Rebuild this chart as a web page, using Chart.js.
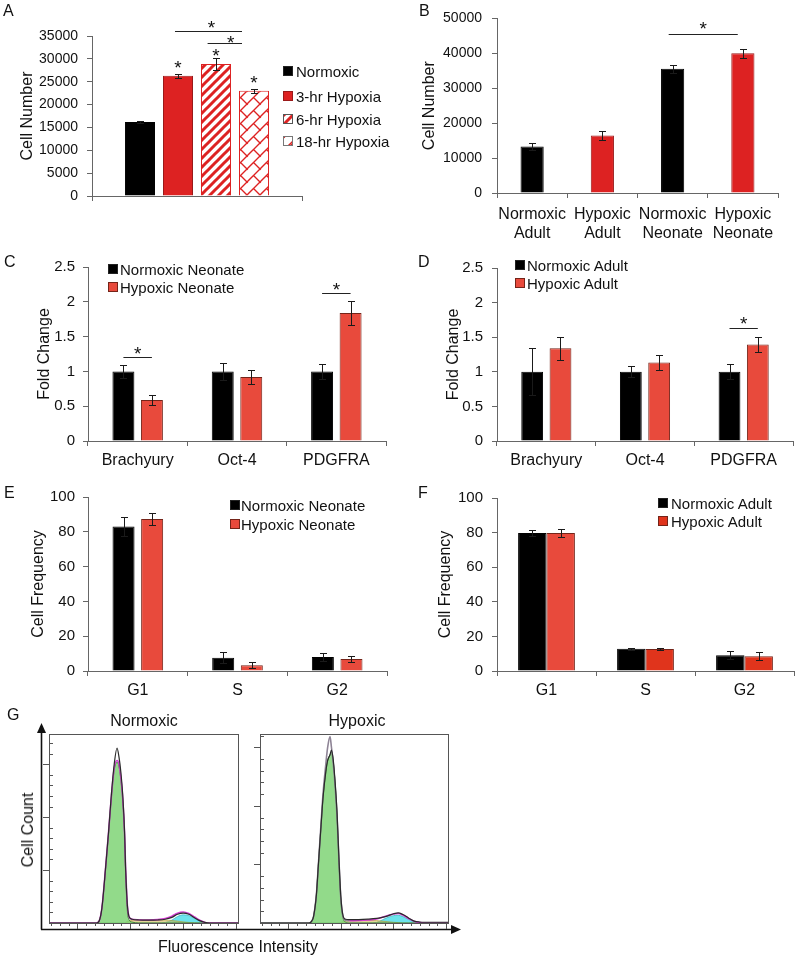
<!DOCTYPE html>
<html>
<head>
<meta charset="utf-8">
<script src="https://cdn.jsdelivr.net/npm/chart.js@4.4.1/dist/chart.umd.min.js"></script>
<style>
  html, body { margin: 0; padding: 0; background: #fff; }
  #fig { position: relative; width: 800px; height: 960px; overflow: hidden;
         font-family: "Liberation Sans", Arial, sans-serif; color: #111; }
  canvas, svg { position: absolute; }
  .t { position: absolute; white-space: nowrap; line-height: 1; transform: translateY(-50%); }
  .c { transform: translate(-50%, -50%); }
  .rot { transform: translate(-50%, -50%) rotate(-90deg); }
  .sw { position: absolute; box-sizing: border-box; width: 10px; height: 10px;
        border: 1px solid #333; transform: translateY(-50%); }
</style>
</head>
<body>
<div id="fig">
  <canvas id="chartA" width="310" height="230" style="left:0;top:0"></canvas>
  <canvas id="chartB" width="400" height="245" style="left:400px;top:0"></canvas>
  <canvas id="chartC" width="400" height="220" style="left:0;top:250px"></canvas>
  <canvas id="chartD" width="400" height="220" style="left:400px;top:250px"></canvas>
  <canvas id="chartE" width="400" height="225" style="left:0;top:480px"></canvas>
  <canvas id="chartF" width="400" height="225" style="left:400px;top:480px"></canvas>
  <svg width="470" height="260" style="left:0;top:700px">
    <line x1="41" y1="229.5" x2="453" y2="229.5" stroke="#111" stroke-width="1.6"/>
    <polygon points="461,229.5 451,225 451,234" fill="#111"/>
    <line x1="41.5" y1="229.5" x2="41.5" y2="31" stroke="#111" stroke-width="1.6"/>
    <polygon points="41.5,23 37,33 46,33" fill="#111"/>
  </svg>
  <canvas id="chartG1" width="250" height="260" style="left:0;top:700px"></canvas>
  <canvas id="chartG2" width="220" height="260" style="left:250px;top:700px"></canvas>
</div>
<script>
// ---------- data ----------
var aLabels = ['Normoxic', '3-hr Hypoxia', '6-hr Hypoxia', '18-hr Hypoxia'];
var aValues = [16200, 26300, 28900, 23000];
var aErrors = [250, 400, 1250, 400];
var aStarY = [null, 29200, 31700, 25800];
var aBrackets = [[1, 3, 36100], [2, 3, 33500]];

var bLabels = [['Normoxic', 'Adult'], ['Hypoxic', 'Adult'], ['Normoxic', 'Neonate'], ['Hypoxic', 'Neonate']];
var bValues = [13300, 16500, 35600, 40000];
var bErrors = [1100, 1300, 1100, 1200];
var bBrackets = [[2, 3, 45400]];

var geneLabels = ['Brachyury', 'Oct-4', 'PDGFRA'];
var cNormoxic = [1, 1, 1];
var cNormoxicErr = [0.09, 0.12, 0.11];
var cHypoxic = [0.59, 0.92, 1.84];
var cHypoxicErr = [0.07, 0.095, 0.17];
var cBrackets = [[0, 1.21], [2, 2.12]];

var dNormoxic = [1, 1, 1];
var dNormoxicErr = [0.34, 0.08, 0.11];
var dHypoxic = [1.34, 1.135, 1.395];
var dHypoxicErr = [0.17, 0.11, 0.11];
var dBrackets = [[2, 1.63]];

var phaseLabels = ['G1', 'S', 'G2'];
var eNormoxic = [83.1, 7.6, 8.0];
var eNormoxicErr = [5.3, 3.1, 2.5];
var eHypoxic = [87.3, 3.3, 6.9];
var eHypoxicErr = [3.4, 1.7, 1.7];

var fNormoxic = [79.7, 12.9, 9.1];
var fNormoxicErr = [1.9, 0.5, 2.3];
var fHypoxic = [79.7, 12.7, 8.5];
var fHypoxicErr = [2.2, 0.5, 2.3];

// flow histograms (x = channel / 5, y = % of frame height)
var gNormX     = [0, 50, 53, 56, 60, 63, 66, 69, 72, 74, 76, 78, 80, 81, 82, 83, 85, 88, 95, 105, 115, 123, 130, 136, 142, 148, 154, 160, 165, 170, 200];
var gNormTotal = [0, 0, 1, 8, 30, 48, 68, 84, 92.6, 88, 80, 68, 48, 30, 18, 9, 3, 2, 1.6, 1.5, 1.6, 2, 3, 4.6, 5.2, 4.6, 2.8, 1.1, 0.3, 0, 0];
var gNormFit   = [0, 0, 1, 8, 30, 48, 67, 82, 86, 84, 77, 66, 47, 30, 18, 9, 3, 2, 1.7, 1.6, 1.8, 2.4, 3.6, 5.2, 5.8, 5, 3.2, 1.3, 0.3, 0, 0];
var gNormG1    = [0, 0, 1, 8, 29, 47, 66, 81, 85, 83, 76, 65, 46, 28, 15, 6, 1.5, 0.5, 0, 0, 0, 0, 0, 0, 0, 0, 0, 0, 0, 0, 0];
var gNormS     = [0, 0, 0, 0, 0, 0, 0, 0, 0, 0, 0, 0, 0, 0.3, 0.6, 0.9, 1.2, 1.4, 1.5, 1.5, 1.5, 1.5, 1.3, 1, 0.6, 0.3, 0.1, 0, 0, 0, 0];
var gNormG2    = [0, 0, 0, 0, 0, 0, 0, 0, 0, 0, 0, 0, 0, 0, 0, 0, 0, 0, 0, 0, 0, 0.3, 1.5, 3.4, 4.3, 3.9, 2.5, 1, 0.2, 0, 0];

var gHypX      = [0, 52, 55, 57, 60, 62, 65, 67, 70, 72, 74.5, 76, 78, 80, 82, 84, 86, 88.5, 91, 95, 105, 115, 124, 130, 136, 142, 147, 152, 158, 164, 170, 175, 200];
var gHypTotal  = [0, 0, 1, 3.5, 15, 30, 52, 66, 80, 86, 89, 91.5, 86, 74, 58, 34, 14, 3.5, 2, 1.8, 1.8, 2, 2.4, 3, 3.8, 4.9, 5.4, 4.5, 2.7, 1, 0.5, 0.4, 0.4];
var gHypFit    = [0, 0, 1, 3.5, 15, 30, 53, 68, 84, 93, 98.6, 93, 84, 72, 56, 33, 13, 3, 1.5, 1.2, 1.3, 1.6, 2.1, 3, 4, 4.8, 5, 4.2, 2.4, 0.9, 0.2, 0, 0];
var gHypG1     = [0, 0, 1, 3.5, 15, 30, 52, 66, 80, 86, 89, 90.5, 85, 73, 56, 32, 12, 2.5, 0.5, 0, 0, 0, 0, 0, 0, 0, 0, 0, 0, 0, 0, 0, 0];
var gHypS      = [0, 0, 0, 0, 0, 0, 0, 0, 0, 0, 0, 0, 0, 0, 0, 0, 0.3, 0.8, 1.1, 1.3, 1.4, 1.4, 1.3, 1, 0.7, 0.4, 0.2, 0, 0, 0, 0, 0, 0];
var gHypG2     = [0, 0, 0, 0, 0, 0, 0, 0, 0, 0, 0, 0, 0, 0, 0, 0, 0, 0, 0, 0, 0, 0, 0.3, 1.6, 3, 3.9, 4.1, 3.4, 1.9, 0.7, 0, 0, 0];

// ---------- styles ----------
var FONT = '"Liberation Sans", Arial, sans-serif';
var AXIS = '#666';
var TEXT = '#111';
var RED_A = '#dd2222';
var RED_A_EDGE = '#9a1a1a';
var RED_C = '#e84a3c';
var RED_C_EDGE = '#742419';
var RED_F = '#e0341c';

Chart.defaults.font.family = FONT;
Chart.defaults.color = TEXT;

function stripeTile() {
    var s = 9, c = document.createElement('canvas');
    c.width = s; c.height = s;
    var g = c.getContext('2d');
    g.fillStyle = '#fff'; g.fillRect(0, 0, s, s);
    g.strokeStyle = RED_A; g.lineWidth = 3;
    g.beginPath();
    g.moveTo(-2, s + 2); g.lineTo(s + 2, -2);
    g.moveTo(-2, 2); g.lineTo(2, -2);
    g.moveTo(s - 2, s + 2); g.lineTo(s + 2, s - 2);
    g.stroke();
    return c;
}

function brickTile() {
    var s = 13, c = document.createElement('canvas');
    c.width = s; c.height = s;
    var g = c.getContext('2d');
    g.fillStyle = '#fff'; g.fillRect(0, 0, s, s);
    g.strokeStyle = RED_A; g.lineWidth = 1.4;
    g.beginPath();
    g.moveTo(-1, s + 1); g.lineTo(s + 1, -1);
    g.moveTo(-1, 1); g.lineTo(1, -1);
    g.moveTo(s - 1, s + 1); g.lineTo(s + 1, s - 1);
    g.moveTo(s / 2, s / 2); g.lineTo(s + 1, s + 1);
    g.moveTo(-1, -1); g.lineTo(0.8, 0.8);
    g.stroke();
    return c;
}

var tmpCtx = document.createElement('canvas').getContext('2d');
var stripeCanvas = stripeTile();
var brickCanvas = brickTile();
var stripeFill = tmpCtx.createPattern(stripeCanvas, 'repeat');
var brickFill = tmpCtx.createPattern(brickCanvas, 'repeat');

// ---------- plugins ----------
var errorBarPlugin = {
    id: 'errorBars',
    afterDatasetsDraw: function (chart) {
        var ctx = chart.ctx, yScale = chart.scales.y;
        ctx.save();
        ctx.strokeStyle = '#1a1a1a';
        ctx.lineWidth = 1;
        chart.data.datasets.forEach(function (ds, di) {
            if (!ds.errors) return;
            chart.getDatasetMeta(di).data.forEach(function (bar, i) {
                var v = ds.data[i], e = ds.errors[i];
                var x = Math.round(bar.x) + 0.5;
                var yTop = Math.round(yScale.getPixelForValue(v + e)) + 0.5;
                var yBot = Math.round(yScale.getPixelForValue(v - e)) + 0.5;
                ctx.beginPath();
                ctx.moveTo(x, yTop); ctx.lineTo(x, yBot);
                ctx.moveTo(x - 3.5, yTop); ctx.lineTo(x + 3.5, yTop);
                ctx.moveTo(x - 3.5, yBot); ctx.lineTo(x + 3.5, yBot);
                ctx.stroke();
            });
        });
        ctx.restore();
    }
};

function drawStar(ctx, x, cy) {
    ctx.font = '19px ' + FONT;
    ctx.textAlign = 'center';
    ctx.textBaseline = 'alphabetic';
    ctx.fillText('*', x, cy + 11);
}

var sigPlugin = {
    id: 'sig',
    afterDatasetsDraw: function (chart, args, opts) {
        var ctx = chart.ctx, yScale = chart.scales.y;
        ctx.save();
        ctx.strokeStyle = '#222';
        ctx.fillStyle = '#111';
        ctx.lineWidth = 1;
        (opts.lines || []).forEach(function (m) {
            var b1 = chart.getDatasetMeta(m.p1[0]).data[m.p1[1]];
            var b2 = chart.getDatasetMeta(m.p2[0]).data[m.p2[1]];
            var x1 = b1.x + (m.f1 || 0) * b1.width;
            var x2 = b2.x + (m.f2 || 0) * b2.width;
            var y = Math.round(yScale.getPixelForValue(m.y)) + 0.5;
            ctx.beginPath();
            ctx.moveTo(x1, y); ctx.lineTo(x2, y);
            ctx.stroke();
            drawStar(ctx, (x1 + x2) / 2 + (m.dx || 0), y - (m.gap || 9.5));
        });
        (opts.stars || []).forEach(function (m) {
            var b = chart.getDatasetMeta(m.p[0]).data[m.p[1]];
            drawStar(ctx, b.x, yScale.getPixelForValue(m.y));
        });
        ctx.restore();
    }
};

function barChart(id, labels, datasets, o) {
    return new Chart(document.getElementById(id), {
        type: 'bar',
        data: { labels: labels, datasets: datasets },
        options: {
            responsive: false,
            animation: false,
            events: [],
            layout: { padding: { top: o.padTop, right: o.padRight, left: 0, bottom: 0 } },
            plugins: {
                legend: { display: false },
                tooltip: { enabled: false },
                sig: { lines: o.lines || [], stars: o.stars || [] }
            },
            scales: {
                x: {
                    grid: { display: true, drawOnChartArea: false, drawTicks: true, tickLength: 5, color: AXIS, offset: true },
                    border: { display: true, color: AXIS, width: 1 },
                    ticks: { font: { size: 16 }, color: TEXT, padding: o.xPad, maxRotation: 0, autoSkip: false },
                    afterFit: function (s) { s.height = o.xHeight; }
                },
                y: {
                    min: 0, max: o.yMax,
                    grid: { display: true, drawOnChartArea: false, drawTicks: true, tickLength: 5, color: AXIS },
                    border: { display: true, color: AXIS, width: 1 },
                    ticks: { stepSize: o.yStep, font: { size: o.yFont }, color: TEXT, padding: o.yPad,
                             callback: function (v) { return String(v); } },
                    title: { display: true, text: o.yTitle, font: { size: 16 }, color: TEXT,
                             padding: { top: o.titlePad, bottom: 0 } },
                    afterFit: function (s) { s.width = o.yWidth; }
                }
            }
        },
        plugins: [errorBarPlugin, sigPlugin]
    });
}

function pairSets(normal, normalErr, hyp, hypErr, hypColor, barPct) {
    return [
        { data: normal, errors: normalErr, backgroundColor: '#000', borderColor: '#000', borderWidth: 1,
          categoryPercentage: 0.574, barPercentage: barPct },
        { data: hyp, errors: hypErr, backgroundColor: hypColor, borderColor: RED_C_EDGE, borderWidth: 1,
          categoryPercentage: 0.574, barPercentage: barPct }
    ];
}

// ---------- A ----------
var aFills = ['#000', RED_A, stripeFill, brickFill];
var aEdges = ['#000', RED_A_EDGE, RED_A, RED_A];
barChart('chartA', [''], aLabels.map(function (name, i) {
    return { label: name, data: [aValues[i]], errors: [aErrors[i]], backgroundColor: aFills[i],
             borderColor: aEdges[i], borderWidth: 1, categoryPercentage: 0.724, barPercentage: 0.79 };
}), {
    padTop: 36, padRight: 8, yWidth: 92, xHeight: 34, yMax: 35000, yStep: 5000, yFont: 14, yPad: 9,
    xPad: 4, yTitle: 'Cell Number', titlePad: 18.4,
    lines: [
        { p1: [aBrackets[0][0], 0], p2: [aBrackets[0][1], 0], y: aBrackets[0][2], f1: -0.1, f2: -0.4, dx: 3, gap: 9 },
        { p1: [aBrackets[1][0], 0], p2: [aBrackets[1][1], 0], y: aBrackets[1][2], f1: -0.28, f2: -0.4, dx: 6, gap: 6 }
    ],
    stars: aStarY.map(function (y, i) { return y === null ? null : { p: [i, 0], y: y }; }).filter(Boolean)
});

// ---------- B ----------
barChart('chartB', bLabels, [{
    data: bValues, errors: bErrors,
    backgroundColor: ['#000', RED_A, '#000', RED_A],
    borderColor: ['#000', RED_A_EDGE, '#000', RED_A_EDGE], borderWidth: 1,
    categoryPercentage: 1, barPercentage: 0.33
}], {
    padTop: 13, padRight: 22, yWidth: 97, xHeight: 52, yMax: 50000, yStep: 10000, yFont: 14, yPad: 10,
    xPad: 7, yTitle: 'Cell Number', titlePad: 20.4,
    lines: bBrackets.map(function (b) { return { p1: [0, b[0]], p2: [0, b[1]], y: b[2], f1: -0.17, f2: -0.22, gap: 10.5 }; })
});

// ---------- C ----------
barChart('chartC', geneLabels, pairSets(cNormoxic, cNormoxicErr, cHypoxic, cHypoxicErr, RED_C, 0.77), {
    padTop: 15, padRight: 14, yWidth: 88, xHeight: 29, yMax: 2.5, yStep: 0.5, yFont: 15, yPad: 8,
    xPad: 5, yTitle: 'Fold Change', titlePad: 34.9,
    lines: cBrackets.map(function (b) { return { p1: [0, b[0]], p2: [1, b[0]], y: b[1], gap: 9 }; })
});

// ---------- D ----------
barChart('chartD', geneLabels, pairSets(dNormoxic, dNormoxicErr, dHypoxic, dHypoxicErr, RED_C, 0.77), {
    padTop: 15, padRight: 7, yWidth: 97, xHeight: 29, yMax: 2.5, yStep: 0.5, yFont: 15, yPad: 9,
    xPad: 5, yTitle: 'Fold Change', titlePad: 43.9,
    lines: dBrackets.map(function (b) { return { p1: [0, b[0]], p2: [1, b[0]], y: b[1], gap: 10 }; })
});

// ---------- E ----------
barChart('chartE', phaseLabels, pairSets(eNormoxic, eNormoxicErr, eHypoxic, eHypoxicErr, RED_C, 0.77), {
    padTop: 16.5, padRight: 13, yWidth: 88, xHeight: 34, yMax: 100, yStep: 20, yFont: 15, yPad: 8,
    xPad: 5, yTitle: 'Cell Frequency', titlePad: 28.9
});

// ---------- F ----------
barChart('chartF', phaseLabels, pairSets(fNormoxic, fNormoxicErr, fHypoxic, fHypoxicErr, [RED_C, RED_F, RED_F], 1.0), {
    padTop: 15, padRight: 6, yWidth: 97, xHeight: 34, yMax: 100, yStep: 20, yFont: 15, yPad: 9,
    xPad: 5, yTitle: 'Cell Frequency', titlePad: 35.9
});

// ---------- G ----------
var flowFramePlugin = {
    id: 'flowFrame',
    afterDraw: function (chart, args, opts) {
        var a = chart.chartArea, ctx = chart.ctx, xs = chart.scales.x, ys = chart.scales.y;
        var xStep = 56 / 6, yStep = opts.yMajor / 5;
        ctx.save();
        ctx.strokeStyle = '#555';
        ctx.lineWidth = 1;
        ctx.strokeRect(Math.round(a.left) + 0.5, Math.round(a.top) + 0.5, Math.round(a.width), Math.round(a.height));
        ctx.beginPath();
        for (var k = -3; 30 + k * xStep <= 200.5; k++) {
            var px = Math.round(xs.getPixelForValue(30 + k * xStep)) + 0.5;
            var len = (k % 6 === 0) ? 6 : 3;
            ctx.moveTo(px, a.bottom); ctx.lineTo(px, a.bottom + len);
        }
        for (var j = 1; j * yStep < 100; j++) {
            var py = Math.round(ys.getPixelForValue(j * yStep)) + 0.5;
            if (j % 5 === 0) { ctx.moveTo(a.left - 6, py); ctx.lineTo(a.left, py); }
            else { ctx.moveTo(a.left, py); ctx.lineTo(a.left + 4, py); }
        }
        ctx.stroke();
        ctx.restore();
    }
};

function flowChart(id, xs, total, fit, g1, s, g2, pad, yMajor, peakFitColor) {
    function pts(arr) { return arr.map(function (y, i) { return { x: xs[i], y: y }; }); }
    return new Chart(document.getElementById(id), {
        type: 'line',
        data: { datasets: [
            { data: pts(total), borderColor: '#2a2a2a', borderWidth: 1.2, fill: false },
            { data: pts(fit), borderColor: '#d23cd2', borderWidth: 1.6, fill: false,
              segment: { borderColor: function (c) { return c.p0.parsed.x < 95 ? peakFitColor : '#d23cd2'; } } },
            { data: pts(g1), borderColor: '#3f7f3a', borderWidth: 1, backgroundColor: 'rgba(122,210,112,0.82)', fill: 'origin' },
            { data: pts(s), borderColor: 'rgba(170,150,40,0.7)', borderWidth: 0.8, backgroundColor: 'rgba(205,180,70,0.55)', fill: 'origin' },
            { data: pts(g2), borderColor: '#3fb6c4', borderWidth: 0.8, backgroundColor: 'rgba(92,224,234,0.9)', fill: 'origin' }
        ] },
        options: {
            responsive: false,
            animation: false,
            events: [],
            layout: { padding: pad },
            elements: { point: { radius: 0 }, line: { cubicInterpolationMode: 'monotone' } },
            plugins: { legend: { display: false }, tooltip: { enabled: false }, flowFrame: { yMajor: yMajor } },
            scales: {
                x: { type: 'linear', display: false, min: 0, max: 200 },
                y: { display: false, min: 0, max: 100 }
            }
        },
        plugins: [flowFramePlugin]
    });
}

flowChart('chartG1', gNormX, gNormTotal, gNormFit, gNormG1, gNormS, gNormG2,
          { left: 49, top: 34, right: 12, bottom: 37 }, 28, '#c848c8');
flowChart('chartG2', gHypX, gHypTotal, gHypFit, gHypG1, gHypS, gHypG2,
          { left: 10, top: 34, right: 22, bottom: 37 }, 31, '#8e8496');

// ---------- text & legends ----------
var fig = document.getElementById('fig');
function addText(txt, x, y, size, cls) {
    var d = document.createElement('div');
    d.className = 't' + (cls ? ' ' + cls : '');
    d.textContent = txt;
    d.style.left = x + 'px';
    d.style.top = y + 'px';
    d.style.fontSize = size + 'px';
    fig.appendChild(d);
}
function addLegend(swX, textX, ys, labels, fills, edges) {
    labels.forEach(function (name, i) {
        var s = document.createElement('div');
        s.className = 'sw';
        s.style.left = swX + 'px';
        s.style.top = ys[i] + 'px';
        s.style.background = fills[i];
        s.style.borderColor = edges[i];
        fig.appendChild(s);
        addText(name, textX, ys[i], 15);
    });
}

[['A', 3, 11], ['B', 419, 11], ['C', 4, 262], ['D', 418, 262], ['E', 4, 493], ['F', 418, 493], ['G', 7, 715]]
    .forEach(function (p) { addText(p[0], p[1], p[2], 16); });

addText('Normoxic', 144, 721, 16, 'c');
addText('Hypoxic', 357, 721, 16, 'c');
addText('Fluorescence Intensity', 238, 947, 16, 'c');
addText('Cell Count', 28, 830, 16, 'rot');

addLegend(283, 296, [71, 96, 118.5, 141], aLabels,
    ['#000', RED_A, 'url(' + stripeCanvas.toDataURL() + ')', 'url(' + brickCanvas.toDataURL() + ')'],
    ['#222', RED_A_EDGE, '#555', '#777']);
addLegend(108, 120, [268.5, 286.5], ['Normoxic Neonate', 'Hypoxic Neonate'], ['#000', RED_C], ['#222', RED_C_EDGE]);
addLegend(515, 527, [265, 283], ['Normoxic Adult', 'Hypoxic Adult'], ['#000', RED_C], ['#222', RED_C_EDGE]);
addLegend(230, 241, [505, 524], ['Normoxic Neonate', 'Hypoxic Neonate'], ['#000', RED_C], ['#222', RED_C_EDGE]);
addLegend(658, 671, [503, 521], ['Normoxic Adult', 'Hypoxic Adult'], ['#000', RED_F], ['#222', RED_C_EDGE]);
</script>
</body>
</html>
